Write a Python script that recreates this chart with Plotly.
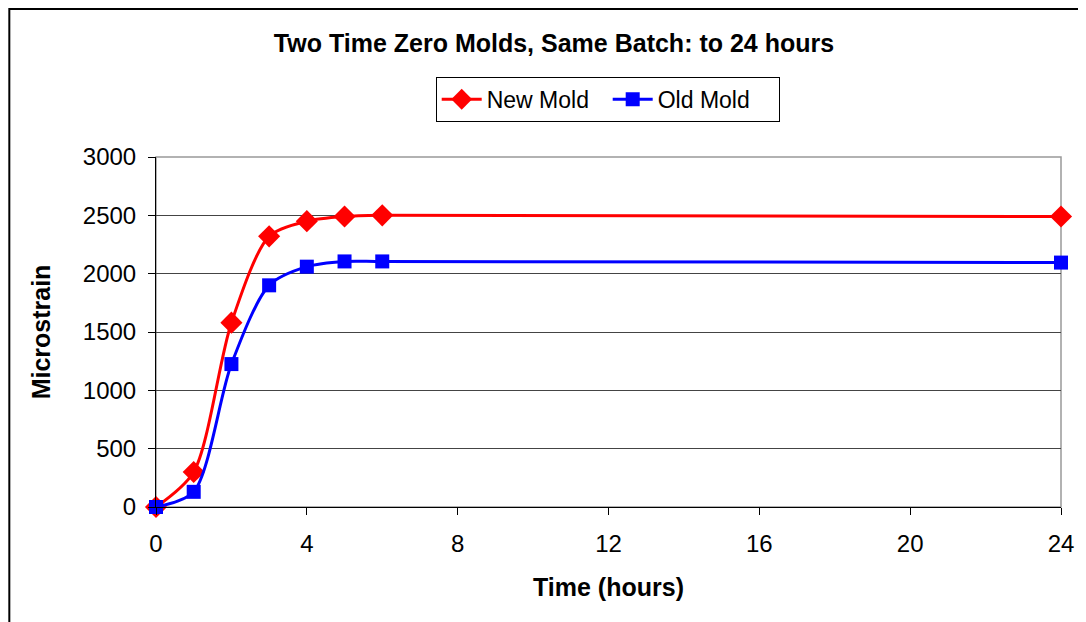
import plotly.graph_objects as go

hours = [0, 1, 2, 3, 4, 5, 6, 24]
new_mold = [0, 300, 1580, 2320, 2450, 2490, 2500, 2490]
old_mold = [0, 130, 1225, 1900, 2060, 2105, 2105, 2095]

x_ticks = [0, 4, 8, 12, 16, 20, 24]
y_ticks = [0, 500, 1000, 1500, 2000, 2500, 3000]

font = "Liberation Sans, Arial, sans-serif"

# page has an 8px body margin, so the figure is a bit smaller than the window
W, H = 1078, 614
L, R, T, B = 148, 23, 149, 115
pw, ph = W - L - R, H - T - B

fig = go.Figure()
fig.add_trace(go.Scatter(
    x=hours, y=new_mold, name="New Mold",
    mode="lines+markers",
    line=dict(color="#ff0000", width=3, shape="spline", smoothing=0.8),
    marker=dict(symbol="diamond", size=17, color="#ff0000"),
    cliponaxis=False,
))
fig.add_trace(go.Scatter(
    x=hours, y=old_mold, name="Old Mold",
    mode="lines+markers",
    line=dict(color="#0000ff", width=3, shape="spline", smoothing=0.8),
    marker=dict(symbol="square", size=14, color="#0000ff"),
    cliponaxis=False,
))

fig.update_layout(
    width=W, height=H,
    margin=dict(l=L, r=R, t=T, b=B),
    paper_bgcolor="white", plot_bgcolor="white",
    font=dict(family=font, color="black"),
    title=dict(
        text="<b>Two Time Zero Molds, Same Batch: to 24 hours</b>",
        x=546 / W, xanchor="center", y=1 - 35 / H, yanchor="middle",
        font=dict(size=25),
    ),
    legend=dict(
        orientation="h", x=(600.7 - L) / pw, xanchor="center",
        y=1 + (T - 91.3) / ph, yanchor="middle",
        bordercolor="black", borderwidth=1, bgcolor="white",
        font=dict(size=23), itemwidth=40,
        entrywidth=116, entrywidthmode="pixels",
    ),
    showlegend=True,
    xaxis=dict(
        range=[0, 24], tickvals=x_ticks, showgrid=False, zeroline=False,
        showline=True, linecolor="black", linewidth=1,
        ticks="outside", ticklen=7, tickcolor="black",
        tickfont=dict(size=24), ticklabelstandoff=8,
        title=dict(text="<b>Time (hours)</b>", font=dict(size=25), standoff=22),
    ),
    yaxis=dict(
        range=[0, 3000], tickvals=y_ticks, showgrid=True,
        gridcolor="#444444", gridwidth=1, zeroline=False,
        showline=True, linecolor="black", linewidth=1,
        ticks="outside", ticklen=7, tickcolor="black",
        tickfont=dict(size=24), ticklabelstandoff=7,
        title=dict(text="<b>Microstrain</b>", font=dict(size=25), standoff=25),
    ),
)

# plot area border (grey on top and right like Excel)
fig.add_shape(type="rect", xref="paper", yref="paper", x0=0, x1=1, y0=0, y1=1,
              line=dict(color="#999999", width=1.5), layer="below")
# outer chart border
fig.add_shape(type="rect", xref="paper", yref="paper",
              x0=(1 - L) / pw, x1=1.2, y0=-0.6, y1=1 + (T - 1) / ph,
              line=dict(color="black", width=2), layer="below")

fig.write_html("out.html")
